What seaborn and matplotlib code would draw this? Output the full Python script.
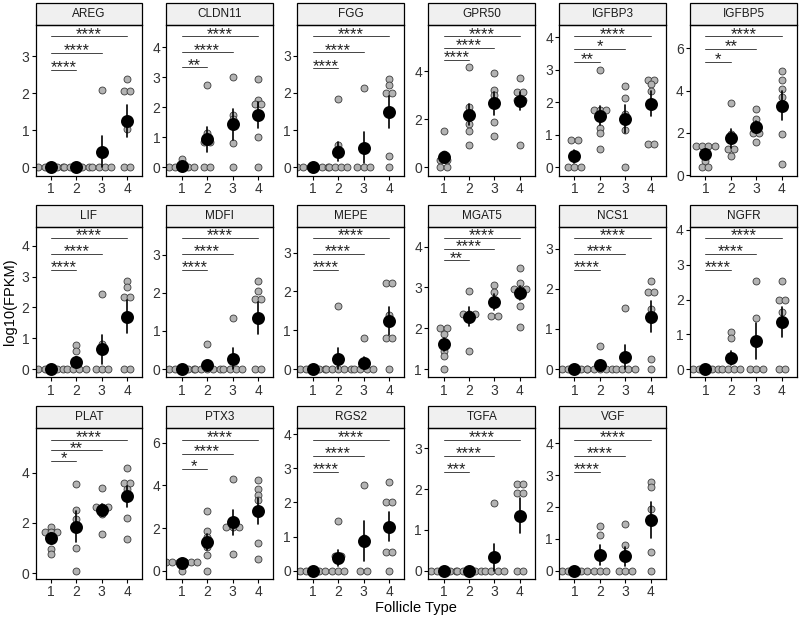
import numpy as np
import pandas as pd
import matplotlib
matplotlib.use("Agg")
import matplotlib.pyplot as plt
import seaborn as sns
from matplotlib.patches import Rectangle
from matplotlib.ticker import MultipleLocator

genes = ["AREG", "CLDN11", "FGG", "GPR50", "IGFBP3", "IGFBP5",
         "LIF", "MDFI", "MEPE", "MGAT5", "NCS1", "NGFR",
         "PLAT", "PTX3", "RGS2", "TGFA", "VGF"]
follicle_types = [1, 2, 3, 4]

# log10(FPKM) per follicle type 1..4
AREG = [[0, 0, 0, 0, 0], [0, 0, 0, 0, 0],
        [2.1, 0, 0, 0, 0], [2.38, 2.05, 2.05, 1.05, 0, 0]]
CLDN11 = [[0.28, 0, 0, 0, 0, 0], [2.75, 1.15, 0.85, 0.85, 0, 0],
          [3.0, 1.75, 1.6, 0.8, 0], [2.95, 2.25, 2.1, 2.1, 1.0, 0]]
FGG = [[0, 0, 0, 0, 0, 0], [1.85, 0.6, 0.5, 0, 0, 0, 0],
       [2.12, 0.55, 0, 0, 0], [2.38, 2.2, 2.0, 2.0, 0.3, 0]]
GPR50 = [[1.5, 0.55, 0.45, 0.3, 0.3, 0, 0], [4.15, 2.5, 2.25, 1.8, 1.5, 0.95],
         [3.9, 3.2, 3.0, 1.9, 1.3], [3.7, 3.15, 3.15, 2.8, 2.8, 0.95]]
IGFBP3 = [[0.85, 0.85, 0, 0, 0], [3.0, 1.75, 1.75, 1.75, 1.2, 1.05, 0.58],
          [2.5, 2.13, 1.65, 1.15, 0], [2.7, 2.7, 2.55, 2.35, 0.73, 0.73]]
IGFBP5 = [[1.4, 1.4, 1.4, 1.4, 0.65, 0.37, 0.37], [3.4, 1.95, 1.25, 1.25, 0.9],
          [3.15, 2.65, 2.0, 2.0, 1.58], [4.9, 4.5, 4.05, 3.7, 1.95, 0.55]]
LIF = [[0, 0, 0, 0, 0], [0.78, 0.6, 0, 0, 0, 0],
       [2.42, 0.8, 0, 0, 0], [2.85, 2.65, 2.35, 2.35, 0, 0]]
MDFI = [[0, 0, 0, 0, 0], [0.65, 0, 0, 0, 0, 0],
        [1.35, 0, 0, 0, 0], [2.3, 2.05, 1.85, 1.85, 0, 0]]
MEPE = [[0, 0, 0, 0, 0], [1.62, 0, 0, 0, 0, 0],
        [0.8, 0, 0, 0, 0], [2.22, 2.22, 1.4, 0.8, 0.8, 0]]
MGAT5 = [[2.0, 2.0, 1.85, 1.45, 1.33, 1.0], [2.92, 2.35, 2.35, 2.35, 1.45],
         [3.05, 2.88, 2.3, 2.3], [3.48, 3.1, 2.95, 2.95, 2.95, 2.55, 2.02]]
NCS1 = [[0, 0, 0, 0, 0], [0.58, 0, 0, 0, 0, 0],
        [1.53, 0, 0, 0, 0], [2.2, 1.93, 1.93, 1.5, 0.25, 0]]
NGFR = [[0, 0, 0, 0, 0], [1.07, 0.88, 0, 0, 0, 0],
        [2.52, 1.47, 0, 0, 0], [2.52, 1.98, 1.98, 1.65, 0, 0]]
PLAT = [[1.85, 1.65, 1.65, 1.65, 0.95, 0.75], [3.55, 2.5, 2.15, 1.0, 0.1],
        [3.4, 2.62, 2.62, 2.62, 2.35, 1.55], [4.2, 3.6, 3.6, 3.35, 2.2, 1.38]]
PTX3 = [[0.4, 0.4, 0.4, 0.4, 0.4, 0.4, 0], [2.78, 1.85, 1.6, 1.1, 0.75, 0],
        [4.3, 2.07, 2.07, 2.07, 0.8], [4.25, 3.85, 3.55, 3.3, 1.3, 0.55]]
RGS2 = [[0, 0, 0, 0, 0], [1.47, 0.42, 0.42, 0, 0, 0],
        [2.52, 0.95, 0, 0], [2.6, 2.02, 2.02, 0.55, 0.55, 0]]
TGFA = [[0, 0, 0, 0, 0], [0, 0, 0, 0, 0],
        [1.65, 0, 0, 0, 0], [2.13, 2.13, 1.9, 1.9, 0, 0]]
VGF = [[0, 0, 0, 0, 0], [1.4, 1.12, 0, 0, 0],
       [1.47, 0.81, 0, 0, 0], [2.78, 2.62, 1.95, 0.6, 0]]

expr = [AREG, CLDN11, FGG, GPR50, IGFBP3, IGFBP5, LIF, MDFI, MEPE,
        MGAT5, NCS1, NGFR, PLAT, PTX3, RGS2, TGFA, VGF]

# significance of type 1 vs 2, 1 vs 3, 1 vs 4
stars = [["****", "****", "****"], ["**", "****", "****"], ["****", "****", "****"],
         ["****", "****", "****"], ["**", "*", "****"], ["*", "**", "****"],
         ["****", "****", "****"], ["****", "****", "****"], ["****", "****", "****"],
         ["**", "****", "****"], ["****", "****", "****"], ["****", "****", "****"],
         ["*", "**", "****"], ["*", "****", "****"], ["****", "****", "****"],
         ["***", "****", "****"], ["****", "****", "****"]]
bracket_y = [[2.64, 3.09, 3.54], [3.33, 3.83, 4.36], [2.66, 3.09, 3.52],
             [4.46, 4.95, 5.44], [3.25, 3.64, 4.03], [5.37, 5.96, 6.56],
             [3.22, 3.73, 4.25], [2.61, 3.02, 3.44], [2.56, 2.97, 3.38],
             [3.66, 3.94, 4.21], [2.48, 2.87, 3.27], [2.86, 3.31, 3.77],
             [4.47, 4.90, 5.32], [4.79, 5.48, 6.15], [2.89, 3.37, 3.84],
             [2.42, 2.82, 3.21], [3.11, 3.61, 4.11]]

DOT_W = 0.244  # horizontal spacing of stacked dots (x units)

rows = []
for gene, groups in zip(genes, expr):
    for ftype, vals in zip(follicle_types, groups):
        # dotplot-style: equal values are laid side by side, centred on the group
        counts = {}
        for v in vals:
            counts[v] = counts.get(v, 0) + 1
        seen = {}
        for v in vals:
            i = seen.get(v, 0)
            seen[v] = i + 1
            off = (i - (counts[v] - 1) / 2) * DOT_W
            rows.append({"gene": gene, "type": ftype, "value": v, "xpos": ftype + off})
df = pd.DataFrame(rows)

sns.set_theme(style="white")
plt.rcParams["font.family"] = ["Liberation Sans", "DejaVu Sans"]

fig, axes = plt.subplots(3, 6, figsize=(8, 6.19), dpi=100)
fig.subplots_adjust(left=0.0444, right=0.9963, top=0.9596, bottom=0.0646,
                    wspace=0.224, hspace=0.338)

strip_h = 22 / 151
for k, ax in enumerate(axes.flat):
    if k >= len(genes):
        ax.set_visible(False)
        continue
    gene = genes[k]
    sub = df[df.gene == gene]

    sns.scatterplot(data=sub, x="xpos", y="value", ax=ax, s=25, color="#b3b3b3",
                    edgecolor="#3a3a3a", linewidth=0.6, legend=False)
    sns.pointplot(data=sub, x="type", y="value", ax=ax, native_scale=True,
                  errorbar="se", color="black", linestyle="none", markersize=7.3,
                  err_kws={"linewidth": 1.2})

    # significance brackets (type 1 against 2, 3, 4)
    lo = min(sub.value.min(), 0) if sub.value.min() <= 0 else sub.value.min()
    top = bracket_y[k][2]
    total = (top - lo) / 0.87
    for j, (lab, yb) in enumerate(zip(stars[k], bracket_y[k])):
        x2 = follicle_types[j + 1]
        ax.plot([1, x2], [yb, yb], color="#444444", lw=0.7)
        ax.annotate(lab, xy=((1 + x2) / 2, yb), xytext=(0, -1.8), textcoords="offset points",
                    ha="center", va="baseline", fontsize=12, color="#222222")

    ax.set_ylim(lo - 0.055 * total, top + 0.075 * total)
    step = next(s for s in [0.5, 1, 2, 5] if total / s <= 5.05)
    ax.yaxis.set_major_locator(MultipleLocator(step))
    ax.yaxis.set_major_formatter(plt.FuncFormatter(lambda v, p: f"{v:g}"))
    ax.set_xlim(0.4, 4.6)
    ax.set_xticks(follicle_types)
    ax.set_xticklabels([str(t) for t in follicle_types])
    ax.set_xlabel("")
    ax.set_ylabel("")
    for sp in ax.spines.values():
        sp.set_color("black")
        sp.set_linewidth(0.9)
    ax.tick_params(axis="both", direction="out", length=3, width=0.8, color="black",
                   labelsize=10, labelcolor="#333333", pad=1.5, left=True, bottom=True)

    ax.add_patch(Rectangle((0, 1), 1, strip_h, transform=ax.transAxes, clip_on=False,
                           facecolor="#f0f0f0", edgecolor="black", linewidth=0.9))
    ax.text(0.5, 1 + strip_h / 2, gene, transform=ax.transAxes, ha="center",
            va="center", fontsize=8.5, color="#1a1a1a")

fig.text(10 / 800, 1 - 302 / 619, "log10(FPKM)", rotation=90, ha="center",
         va="center", fontsize=10.5, color="black")
fig.text(416 / 800, 1 - 608 / 619, "Follicle Type", ha="center", va="center",
         fontsize=10.5, color="black")

fig.savefig("out.png", dpi=100)
